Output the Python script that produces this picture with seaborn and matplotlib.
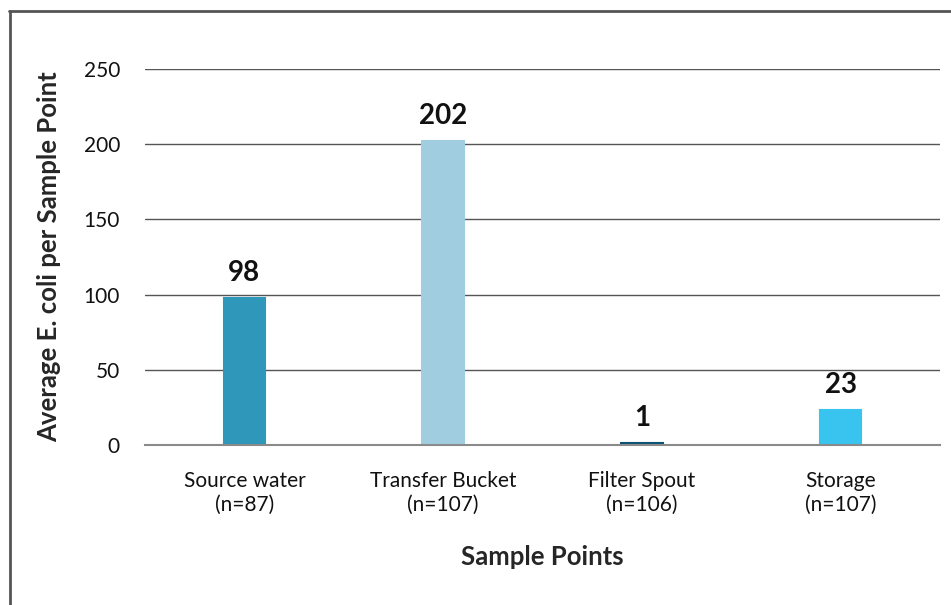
import matplotlib
matplotlib.use("Agg")
import matplotlib.pyplot as plt
import seaborn as sns
import pandas as pd
from matplotlib.lines import Line2D

categories = ["Source water\n(n=87)", "Transfer Bucket\n(n=107)", "Filter Spout\n(n=106)", "Storage\n(n=107)"]
values = [98, 202, 1, 23]
bar_colors = ["#2E97BA", "#A0CDDF", "#0B5275", "#38C4EF"]
y_ticks = [0, 50, 100, 150, 200, 250]

sns.set_style("white")
plt.rcParams["font.family"] = ["Lato", "DejaVu Sans"]

df = pd.DataFrame({"point": categories, "ecoli": values})

fig = plt.figure(figsize=(9.51, 6.05), dpi=100)
ax = fig.add_axes([145 / 951, 1 - 445 / 605, 795 / 951, 376 / 605])

sns.barplot(data=df, x="point", y="ecoli", hue="point", palette=bar_colors,
            legend=False, width=0.21, ax=ax, saturation=1, linewidth=0)
# thin edge in the bar colour so the tiny Filter Spout bar stays visible
for patch, c in zip(ax.patches, bar_colors):
    patch.set_edgecolor(c)
    patch.set_linewidth(1.5)

ax.set_ylim(0, 250)
ax.set_yticks(y_ticks)
ax.set_xlim(-0.5, 3.5)
ax.yaxis.grid(True, color="#555555", linewidth=1)
ax.set_axisbelow(True)
for s in ["top", "right", "left"]:
    ax.spines[s].set_visible(False)
ax.spines["bottom"].set_color("#8a8a8a")
ax.spines["bottom"].set_linewidth(1.5)
ax.tick_params(axis="both", length=0, labelsize=15, colors="#111111")
ax.tick_params(axis="y", pad=18)
ax.tick_params(axis="x", pad=19)
for lbl in ax.get_xticklabels():
    lbl.set_multialignment("center")

for i, v in enumerate(values):
    ax.text(i, v + 8, str(v), ha="center", va="bottom", fontsize=20, fontweight="bold", color="#111111")

ax.set_xlabel("Sample Points", fontsize=18.5, fontweight="bold", labelpad=22)
ax.set_ylabel("Average E. coli per Sample Point", fontsize=18.5, fontweight="bold", labelpad=16)

# outer frame
fig.add_artist(Line2D([9 / 951, 1], [1 - 11 / 605, 1 - 11 / 605], color="#555555", linewidth=2, transform=fig.transFigure))
fig.add_artist(Line2D([10 / 951, 10 / 951], [0, 1 - 11 / 605], color="#555555", linewidth=2, transform=fig.transFigure))

fig.savefig("out.png", dpi=100)
